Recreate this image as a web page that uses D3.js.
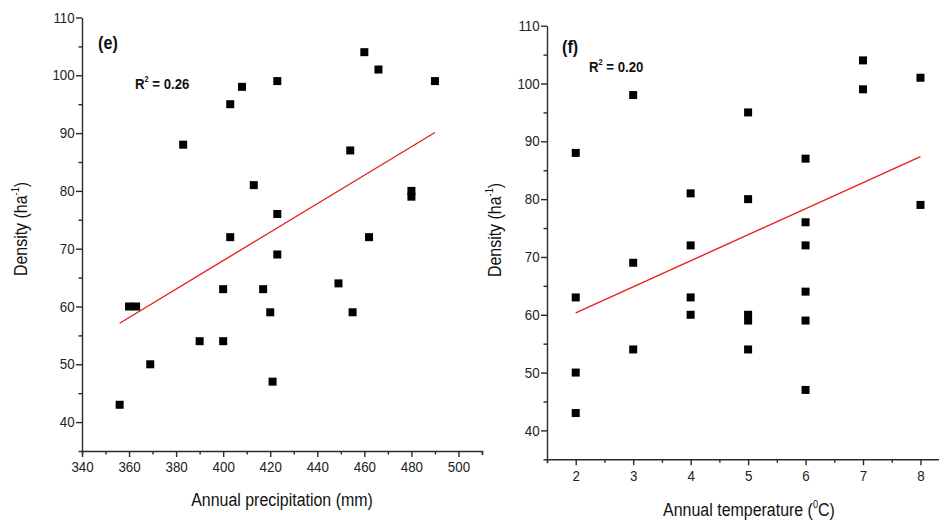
<!DOCTYPE html>
<html>
<head>
<meta charset="utf-8">
<script src="https://cdn.jsdelivr.net/npm/d3@7"></script>
<style>
  html, body { margin: 0; padding: 0; background: #ffffff; }
  svg { display: block; font-family: "Liberation Sans", Arial, sans-serif; }
  .axis path, .axis line { stroke: #2a2a2a; stroke-width: 1.4; }
  .axis text { fill: #222; font-size: 14.5px; }
</style>
</head>
<body>
<svg id="chart" width="939" height="523"></svg>
<script>
// ---- Panel (e): density vs annual precipitation ----
const precipitation = [460, 466, 490, 423, 408, 403, 383, 454, 413, 480, 480, 423, 403, 462, 423,
                       360, 363, 400, 417, 449, 420, 455, 390, 400, 369, 421, 356];
const densityE      = [104, 101, 99, 99, 98, 95, 88, 87, 81, 80, 79, 76, 72, 72, 69,
                       60, 60, 63, 63, 64, 59, 59, 54, 54, 50, 47, 43];
const fitE = { slope: 0.2463, intercept: -30.58, xFrom: 356, xTo: 490 };
const r2E = "0.26";
const xTicksE = [340, 360, 380, 400, 420, 440, 460, 480, 500];
const xMinorE = [350, 370, 390, 410, 430, 450, 470, 490, 510];

// ---- Panel (f): density vs annual temperature ----
const temperature = [2, 2, 2, 2, 3, 3, 3, 4, 4, 4, 4, 5, 5, 5, 5, 5, 6, 6, 6, 6, 6, 6, 7, 7, 8, 8];
const densityF    = [88, 63, 50, 43, 98, 69, 54, 81, 72, 63, 60, 95, 80, 60, 59, 54, 87, 76, 72, 64, 59, 47, 104, 99, 101, 79];
const fitF = { slope: 4.5, intercept: 51.34, xFrom: 2, xTo: 8 };
const r2F = "0.20";
const xTicksF = [2, 3, 4, 5, 6, 7, 8];
const xMinorF = [1.5, 2.5, 3.5, 4.5, 5.5, 6.5, 7.5];

// shared y ticks
const yTicks = [40, 50, 60, 70, 80, 90, 100, 110];
const yMinor = [35, 45, 55, 65, 75, 85, 95, 105];

const svg = d3.select("#chart");
const NARROW = 0.84;

function panel(cfg) {
  const g = svg.append("g");
  const x = d3.scaleLinear().domain(cfg.xDomain).range(cfg.xRange);
  const y = d3.scaleLinear().domain([35, 110]).range(cfg.yRange);
  const x0 = cfg.xRange[0], yb = cfg.yRange[0];

  // minor ticks
  g.append("g").attr("class", "axis")
    .attr("transform", `translate(0,${yb})`)
    .call(d3.axisBottom(x).tickValues(cfg.xMinor).tickSize(3.5).tickFormat(""))
    .call(s => s.select(".domain").remove());
  g.append("g").attr("class", "axis")
    .attr("transform", `translate(${x0},0)`)
    .call(d3.axisLeft(y).tickValues(yMinor).tickSize(3.5).tickFormat(""))
    .call(s => s.select(".domain").remove());

  // major axes
  g.append("g").attr("class", "axis")
    .attr("transform", `translate(0,${yb})`)
    .call(d3.axisBottom(x).tickValues(cfg.xTicks).tickSize(6).tickSizeOuter(4).tickPadding(5).tickFormat(d3.format("d")))
    .call(s => s.selectAll("text").attr("transform", "scale(0.92,1)"));
  g.append("g").attr("class", "axis")
    .attr("transform", `translate(${x0},0)`)
    .call(d3.axisLeft(y).tickValues(yTicks).tickSize(6).tickSizeOuter(0).tickPadding(2).tickFormat(d3.format("d")))
    .call(s => s.selectAll("text").attr("transform", "scale(0.92,1)"));

  // regression line
  g.append("line")
    .attr("x1", x(cfg.fit.xFrom)).attr("y1", y(cfg.fit.intercept + cfg.fit.slope * cfg.fit.xFrom))
    .attr("x2", x(cfg.fit.xTo)).attr("y2", y(cfg.fit.intercept + cfg.fit.slope * cfg.fit.xTo))
    .attr("stroke", "#e8211d").attr("stroke-width", 1.4);

  // points
  const s = 8;
  g.selectAll("rect.pt").data(cfg.xs.map((v, i) => [v, cfg.ys[i]]))
    .enter().append("rect").attr("class", "pt")
    .attr("x", d => x(d[0]) - s / 2).attr("y", d => y(d[1]) - s / 2)
    .attr("width", s).attr("height", s).attr("fill", "#000");

  // panel label
  g.append("text")
    .attr("transform", `translate(${cfg.labelPos[0]},${cfg.labelPos[1]}) scale(0.9,1)`)
    .attr("font-size", 18).attr("font-weight", "bold").attr("fill", "#111").text(cfg.label);

  // R^2
  const r = g.append("text")
    .attr("transform", `translate(${cfg.r2Pos[0]},${cfg.r2Pos[1]}) scale(0.88,1)`)
    .attr("font-size", 15).attr("font-weight", "bold").attr("fill", "#111");
  r.append("tspan").text("R");
  r.append("tspan").attr("font-size", 8.5).attr("dy", -7).text("2");
  r.append("tspan").attr("dy", 7).text(" = " + cfg.r2);

  // y title
  const yt = g.append("text")
    .attr("transform", `translate(${cfg.yTitlePos[0]},${cfg.yTitlePos[1]}) rotate(-90) scale(${NARROW},1)`)
    .attr("text-anchor", "middle").attr("font-size", 19).attr("fill", "#111");
  yt.append("tspan").text("Density (ha");
  yt.append("tspan").attr("font-size", 11).attr("dy", -8).text("-1");
  yt.append("tspan").attr("dy", 8).text(")");

  // x title
  const xt = g.append("text")
    .attr("transform", `translate(${cfg.xTitlePos[0]},${cfg.xTitlePos[1]}) scale(${NARROW},1)`)
    .attr("text-anchor", "middle").attr("font-size", 19).attr("fill", "#111");
  cfg.xTitle(xt);
}

panel({
  xDomain: [340, 510], xRange: [82, 482], yRange: [451, 17.5],
  xTicks: xTicksE, xMinor: xMinorE,
  xs: precipitation, ys: densityE, fit: fitE, r2: r2E,
  label: "(e)", labelPos: [98, 49], r2Pos: [135, 89],
  yTitlePos: [27, 229], xTitlePos: [282, 506],
  xTitle: t => t.text("Annual precipitation (mm)")
});

panel({
  xDomain: [1.5, 8.5], xRange: [547, 949.2], yRange: [459.3, 25.7],
  xTicks: xTicksF, xMinor: xMinorF,
  xs: temperature, ys: densityF, fit: fitF, r2: r2F,
  label: "(f)", labelPos: [562, 53], r2Pos: [589, 72],
  yTitlePos: [501, 230], xTitlePos: [749, 516],
  xTitle: t => {
    t.append("tspan").text("Annual temperature (");
    t.append("tspan").attr("font-size", 11).attr("dy", -8).text("0");
    t.append("tspan").attr("dy", 8).text("C)");
  }
});
</script>
</body>
</html>
